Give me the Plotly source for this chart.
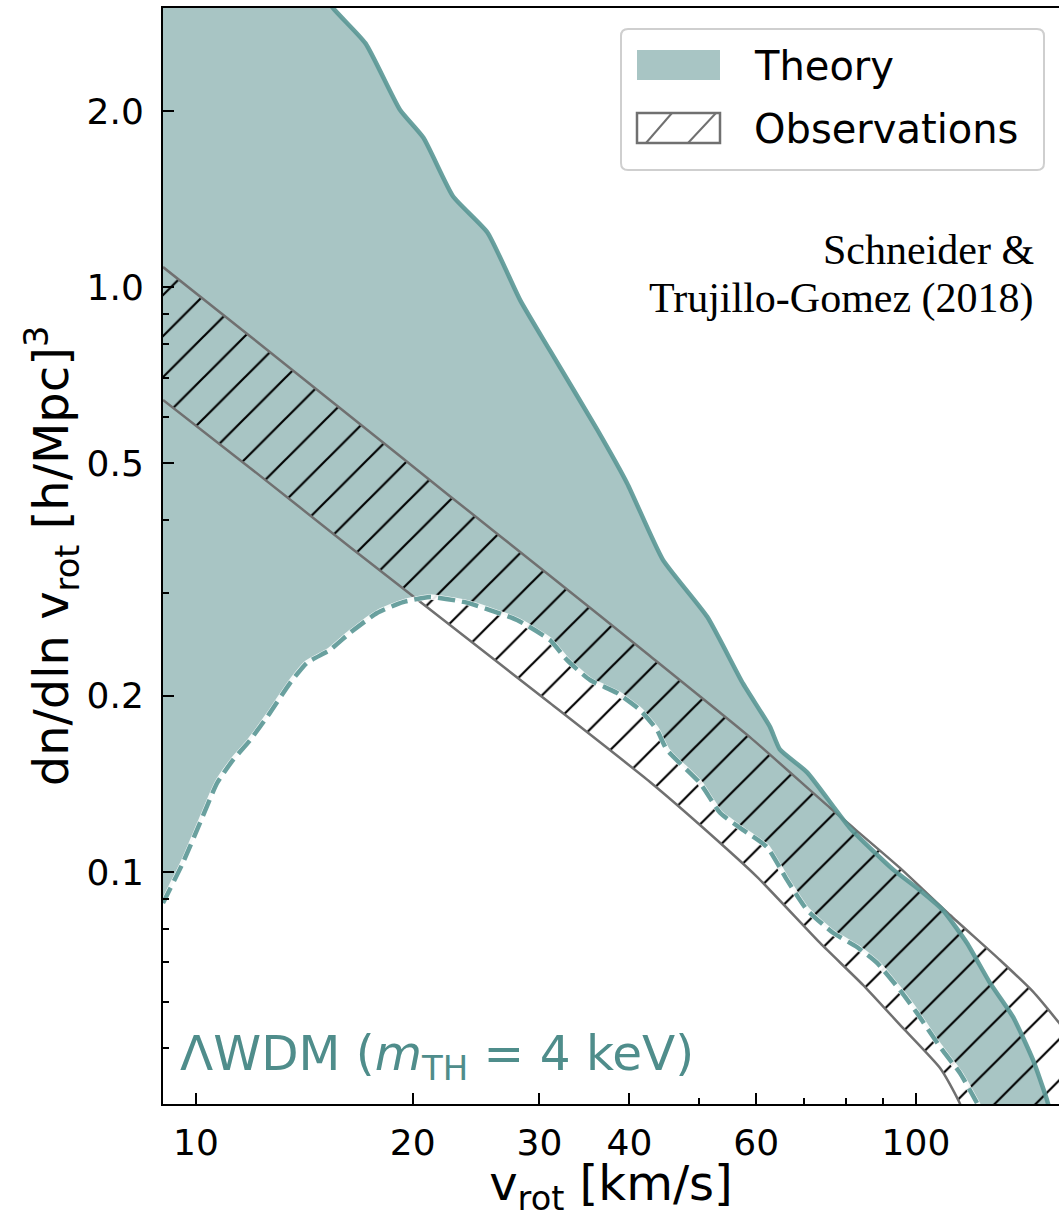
import math
import plotly.graph_objects as go

# Rotation-velocity function dn/dln v_rot [(h/Mpc)^3] versus v_rot [km/s]

# Theory band (Lambda-WDM, m_TH = 4 keV): upper envelope
theory_hi_v = [9.0, 12.0, 15.5, 17.2, 19.2, 20.7, 22.75, 25.4, 28.2, 31.0, 36.1, 39.7,
               44.5, 51.3, 57.5, 62.7, 64.7, 70.6, 80.9, 92.9, 101.3, 109.0, 117.7,
               126.7, 136.4, 145.4, 152.0, 153.5]
theory_hi_n = [8.0, 4.6, 3.0, 2.61, 2.01, 1.80, 1.43, 1.24, 0.95, 0.78, 0.57, 0.462,
               0.342, 0.273, 0.210, 0.177, 0.162, 0.148, 0.119, 0.101, 0.093, 0.086, 0.0756,
               0.0646, 0.0565, 0.0477, 0.0408, 0.039]

# Theory band: lower envelope (dashed)
theory_lo_v = [9.0, 9.59, 10.13, 10.70, 11.26, 11.89, 12.67, 13.51, 14.26, 15.35, 16.36,
               17.84, 19.39, 21.13, 23.79, 27.92, 31.02, 32.75, 35.25, 38.43, 41.37, 43.68,
               45.10, 50.12, 53.44, 57.5, 62.1, 66.2, 70.6, 76.7, 82.8, 88.3, 95.0, 100.3,
               108.0, 115.1, 121.5, 123.0]
theory_lo_n = [0.0885, 0.1036, 0.1213, 0.1419, 0.1554, 0.168, 0.187, 0.2103, 0.2277,
               0.2396, 0.2562, 0.2771, 0.2893, 0.2952, 0.2886, 0.2696, 0.2491, 0.2304,
               0.2129, 0.2023, 0.1892, 0.1749, 0.1616, 0.1419, 0.1262, 0.1180, 0.1103,
               0.0969, 0.0861, 0.0787, 0.0744, 0.0699, 0.0628, 0.0574, 0.0502, 0.0453,
               0.0403, 0.039]

# Observational band: upper and lower edges
obs_hi_v = [9.0, 11.89, 16.36, 22.53, 31.02, 42.72, 58.8, 75.96, 95.0, 111.5, 130.8,
            145.4, 158.0, 169.0, 190.0]
obs_hi_n = [1.082, 0.824, 0.602, 0.439, 0.321, 0.234, 0.170, 0.1287, 0.1016, 0.0844,
            0.0707, 0.0624, 0.0552, 0.0496, 0.038]
obs_lo_v = [9.0, 11.89, 16.36, 22.53, 31.02, 42.72, 50.12, 60.15, 73.58, 84.4, 95.9,
            108.0, 114.4, 117.0]
obs_lo_n = [0.641, 0.4906, 0.3593, 0.2643, 0.1944, 0.1425, 0.1203, 0.0981, 0.0756,
            0.0641, 0.0541, 0.0462, 0.0408, 0.0384]

# Axis ticks
x_tick_vals = [10, 20, 30, 40, 60, 100]
x_tick_text = ["10", "20", "30", "40", "60", "100"]
x_minor_vals = [50, 70, 80, 90]
y_tick_vals = [0.1, 0.2, 0.5, 1.0, 2.0]
y_tick_text = ["0.1", "0.2", "0.5", "1.0", "2.0"]
y_minor_vals = [0.05, 0.06, 0.07, 0.08, 0.09, 0.3, 0.4, 0.6, 0.7, 0.8, 0.9]

X_RANGE = (9.0, 158.0)
Y_RANGE = (0.0401, 3.0)

FILL = "#a8c5c4"
LINE = "#5a9795"
LABEL = "#4f8d8b"
GRAY = "#707070"
FONT = "DejaVu Sans"

W, H = 1059, 1218
ML, MR, MT, MB = 163, 0, 8, 114
PW, PH = W - ML - MR, H - MT - MB


def px(x):
    return (x - ML) / PW


def py(y):
    return (H - MB - y) / PH


SMOOTH = dict(shape="spline", smoothing=0.5)

fig = go.Figure()

# theory band fill
fig.add_trace(go.Scatter(x=theory_lo_v, y=theory_lo_n, mode="lines",
                         line=dict(width=0, **SMOOTH), hoverinfo="skip", showlegend=False))
fig.add_trace(go.Scatter(x=theory_hi_v, y=theory_hi_n, mode="lines", fill="tonexty",
                         fillcolor=FILL, line=dict(width=0, **SMOOTH), showlegend=False))

# observational band: gray edges with black hatch
fig.add_trace(go.Scatter(x=obs_lo_v, y=obs_lo_n, mode="lines",
                         line=dict(color=GRAY, width=2.5, **SMOOTH), showlegend=False))
fig.add_trace(go.Scatter(x=obs_hi_v, y=obs_hi_n, mode="lines", fill="tonexty",
                         fillcolor="rgba(0,0,0,0)",
                         fillpattern=dict(shape="/", fgcolor="black", fgopacity=1,
                                          bgcolor="rgba(0,0,0,0)", size=29,
                                          solidity=0.075, fillmode="overlay"),
                         line=dict(color=GRAY, width=2.5, **SMOOTH), showlegend=False))

# theory envelope lines
fig.add_trace(go.Scatter(x=theory_lo_v, y=theory_lo_n, mode="lines",
                         line=dict(color="rgba(255,255,255,0.9)", width=5.5, **SMOOTH),
                         showlegend=False))
fig.add_trace(go.Scatter(x=theory_lo_v, y=theory_lo_n, mode="lines",
                         line=dict(color=LINE, width=4.5, dash="17px,7px", **SMOOTH),
                         opacity=0.9, showlegend=False))
fig.add_trace(go.Scatter(x=theory_hi_v, y=theory_hi_n, mode="lines",
                         line=dict(color=LINE, width=4.5, **SMOOTH), opacity=0.9,
                         showlegend=False))

shapes = []
annotations = []

# legend frame
x0, x1, y0, y1, r = px(621), px(1044), py(29), py(170), 7
rx, ry = r / PW, r / PH
path = (f"M{x0 + rx},{y0} L{x1 - rx},{y0} Q{x1},{y0} {x1},{y0 - ry} "
        f"L{x1},{y1 + ry} Q{x1},{y1} {x1 - rx},{y1} L{x0 + rx},{y1} "
        f"Q{x0},{y1} {x0},{y1 + ry} L{x0},{y0 - ry} Q{x0},{y0} {x0 + rx},{y0} Z")
shapes.append(dict(type="path", xref="paper", yref="paper", path=path,
                   line=dict(color="#cfcfcf", width=2), fillcolor="rgba(255,255,255,0.85)",
                   layer="above"))
# Theory swatch
shapes.append(dict(type="rect", xref="paper", yref="paper", x0=px(637), x1=px(720),
                   y0=py(50), y1=py(80), fillcolor=FILL, line=dict(width=0), layer="above"))
# Observations swatch
shapes.append(dict(type="rect", xref="paper", yref="paper", x0=px(637), x1=px(720),
                   y0=py(113), y1=py(143), fillcolor="rgba(0,0,0,0)",
                   line=dict(color=GRAY, width=2.5), layer="above"))
for a, b in [(646, 672), (688, 716)]:
    shapes.append(dict(type="line", xref="paper", yref="paper", x0=px(a), y0=py(143),
                       x1=px(b), y1=py(113), line=dict(color=GRAY, width=2), layer="above"))

annotations.append(dict(text="Theory", xref="paper", yref="paper", x=px(752), y=py(66),
                        xanchor="left", yanchor="middle", showarrow=False,
                        font=dict(family=FONT, size=40, color="black")))
annotations.append(dict(text="Observations", xref="paper", yref="paper", x=px(752),
                        y=py(129), xanchor="left", yanchor="middle", showarrow=False,
                        font=dict(family=FONT, size=40, color="black")))

# reference
annotations.append(dict(text="Schneider &", xref="paper", yref="paper", x=px(1036),
                        y=py(250), xanchor="right", yanchor="middle", showarrow=False,
                        font=dict(family="Liberation Serif", size=42, color="black")))
annotations.append(dict(text="Trujillo-Gomez (2018)", xref="paper", yref="paper",
                        x=px(1036), y=py(298), xanchor="right", yanchor="middle",
                        showarrow=False,
                        font=dict(family="Liberation Serif", size=42, color="black")))

# model label
annotations.append(dict(text="ΛWDM (<i>m</i><sub>TH</sub> = 4 keV)", xref="paper",
                        yref="paper", x=px(178), y=py(1056), xanchor="left",
                        yanchor="middle", showarrow=False,
                        font=dict(family=FONT, size=48.5, color=LABEL)))

axis_common = dict(type="log", showgrid=False, zeroline=False, showline=True,
                   linecolor="black", linewidth=2, ticks="inside", ticklen=11,
                   tickwidth=2, tickcolor="black",
                   tickfont=dict(family=FONT, size=36, color="black"))

fig.update_layout(
    width=W, height=H,
    margin=dict(l=ML, r=MR, t=MT, b=MB, autoexpand=False),
    paper_bgcolor="white", plot_bgcolor="white",
    showlegend=False,
    shapes=shapes, annotations=annotations,
    xaxis=dict(axis_common, range=[math.log10(X_RANGE[0]), math.log10(X_RANGE[1])],
               tickmode="array", tickvals=x_tick_vals, ticktext=x_tick_text,
               mirror=True, ticklabelstandoff=6,
               minor=dict(tickmode="array", tickvals=x_minor_vals, ticks="inside",
                          ticklen=6, tickwidth=1.5, tickcolor="black"),
               title=dict(text="v<sub>rot</sub> [km/s]", standoff=24,
                          font=dict(family=FONT, size=48, color="black"))),
    yaxis=dict(axis_common, range=[math.log10(Y_RANGE[0]), math.log10(Y_RANGE[1])],
               tickmode="array", tickvals=y_tick_vals, ticktext=y_tick_text,
               mirror=False, ticklabelstandoff=10,
               minor=dict(tickmode="array", tickvals=y_minor_vals, ticks="inside",
                          ticklen=6, tickwidth=1.5, tickcolor="black"),
               title=dict(text="dn/dln v<sub>rot</sub> [h/Mpc]<sup>3</sup>", standoff=2,
                          font=dict(family=FONT, size=48, color="black"))),
)

fig.write_html("out.html")
